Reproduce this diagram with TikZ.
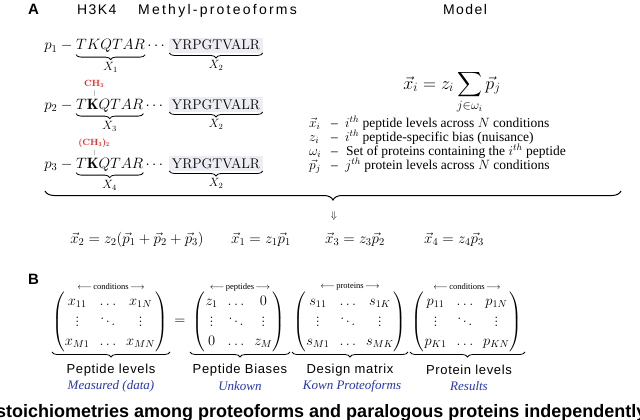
\RequirePackage{fix-cm}
\documentclass[tikz,border=0pt]{standalone}
\usepackage{amsmath}
\usepackage{fontspec}
\newfontfamily\hsans[LetterSpace=10]{Liberation Sans}
\newfontfamily\hsanswide[LetterSpace=16]{Liberation Sans}
\newfontfamily\hsanslab[LetterSpace=5]{Liberation Sans}
\newfontfamily\hsansb{Liberation Sans}
\newfontfamily\tms{Liberation Serif}
\usetikzlibrary{decorations.pathreplacing}
\definecolor{pepred}{RGB}{228,40,40}
\definecolor{labblue}{RGB}{40,55,170}
\definecolor{boxgrey}{RGB}{237,237,244}
\tikzset{
  panel/.style={inner sep=0, font=\hsansb\bfseries\fontsize{15}{17}\selectfont},
  head/.style={inner sep=0, font=\hsans\fontsize{14}{16}\selectfont},
  headwide/.style={inner sep=0, font=\hsanswide\fontsize{14}{16}\selectfont},
  seq/.style={inner sep=0, font=\fontsize{15}{18}\selectfont},
  tailbox/.style={fill=boxgrey, inner sep=2.5pt, font=\fontsize{14}{16}\selectfont},
  xlab/.style={inner sep=0, font=\fontsize{12}{14}\selectfont},
  meth/.style={inner sep=0, text=pepred, font=\fontsize{9}{10}\selectfont},
  tick/.style={draw=black!25, line width=0.6pt},
  brc/.style={decorate, decoration={brace, mirror, amplitude=5pt}, line width=0.8pt},
  bigbrc/.style={decorate, decoration={brace, mirror, amplitude=9pt}, line width=1pt},
  eqn/.style={inner sep=0, font=\fontsize{15}{18}\selectfont},
  legsym/.style={inner sep=0, font=\fontsize{13.5}{15}\selectfont},
  legtxt/.style={inner sep=0, font=\tms\fontsize{13.5}{15}\selectfont},
  mat/.style={inner sep=0, font=\fontsize{14.5}{18}\selectfont},
  mhead/.style={inner sep=0, font=\tms\fontsize{8.5}{10}\selectfont},
  mlab/.style={inner sep=0, font=\hsanslab\fontsize{13}{15}\selectfont},
  mblue/.style={inner sep=0, text=labblue, font=\tms\itshape\fontsize{13}{15}\selectfont},
  foot/.style={inner sep=0, font=\hsansb\bfseries\fontsize{18}{20}\selectfont}
}
\begin{document}
\begin{tikzpicture}[x=1pt,y=-1pt]
\fill[white] (0,0) rectangle (640,420);
\useasboundingbox (0,0) rectangle (640,420);

% ---------- panel A headings
\node[panel, anchor=base west] (A) at (28,15) {A};
\node[head, anchor=base west] (h3k4) at (77,15) {H3K4};
\node[headwide, anchor=base west] (meth) at (138,15) {Methyl-proteoforms};
\node[head, anchor=base] (model) at (465,15) {Model};

% ---------- peptide rows
\foreach \r/\yy in {1/50, 2/109, 3/168}{
  \node[seq, anchor=base east] (p\r) at (76,\yy) {$p_{\r} - {}$};
}
\node[seq, anchor=base west] (t1) at (76,50) {$TKQTAR$};
\node[seq, anchor=base west] (t2) at (76,109) {$T\mathbf{K}QTAR$};
\node[seq, anchor=base west] (t3) at (76,168) {$T\mathbf{K}QTAR$};
\foreach \r in {1,2,3}{
  \node[seq, anchor=base west] (d\r) at ([xshift=2pt]t\r.base east) {$\cdots$};
}
\node[tailbox, anchor=base] (y1) at (216,50) {YRPGTVALR};
\node[tailbox, anchor=base] (y2) at (216,109) {YRPGTVALR};
\node[tailbox, anchor=base] (y3) at (216,168) {YRPGTVALR};

\draw[brc] ([yshift=-1.5pt]t1.south west) -- ([yshift=-1.5pt]t1.south east) node[xlab, midway, below=7pt] (X1) {$X_1$};
\draw[brc] ([yshift=-1.5pt]t2.south west) -- ([yshift=-1.5pt]t2.south east) node[xlab, midway, below=7pt] (X3) {$X_3$};
\draw[brc] ([yshift=-1.5pt]t3.south west) -- ([yshift=-1.5pt]t3.south east) node[xlab, midway, below=7pt] (X4) {$X_4$};
\draw[brc] (y1.south west) -- (y1.south east) node[xlab, midway, below=7pt] (X2a) {$X_2$};
\draw[brc] (y2.south west) -- (y2.south east) node[xlab, midway, below=7pt] (X2b) {$X_2$};
\draw[brc] (y3.south west) -- (y3.south east) node[xlab, midway, below=7pt] (X2c) {$X_2$};

% methyl marks
\node[meth] (ch3) at (94,84) {\textbf{CH}$_{\mathbf{3}}$};
\node[meth] (ch32) at (94,143) {\textbf{(CH}$_{\mathbf{3}}$\textbf{)}$_{\mathbf{2}}$};
\coordinate (k2) at (94,96);
\coordinate (k3) at (94,155);
\draw[tick] ([yshift=-2pt]ch3.south) -- (k2);
\draw[tick] ([yshift=-2pt]ch32.south) -- (k3);

% ---------- model
\node[inner sep=0, anchor=base, font=\fontsize{18}{21}\selectfont] (eqm) at (452,89)
  {$\displaystyle \vec{x}_i = z_i \sum_{j\in\omega_i} \vec{p}_j$};

\foreach \k/\yy/\sym in {1/127/{\vec{x}_i}, 2/141/{z_i}, 3/155/{\omega_i}, 4/169/{\vec{p}_j}}{
  \node[legsym, anchor=base west] (s\k) at (309,\yy) {$\sym$};
  \node[legtxt, anchor=base west] (dash\k) at (331,\yy) {\textendash};
}
\node[legtxt, anchor=base west] (l1) at (345,127) {$i^{th}$ peptide levels across $N$ conditions};
\node[legtxt, anchor=base west] (l2) at (345,141) {$i^{th}$ peptide-specific bias (nuisance)};
\node[legtxt, anchor=base west] (l3) at (346,155) {Set of proteins containing the $i^{th}$ peptide};
\node[legtxt, anchor=base west] (l4) at (345,169) {$j^{th}$ protein levels across $N$ conditions};

% ---------- big brace and arrow
\coordinate (bl) at (45,191);
\coordinate (br) at (621,191);
\draw[bigbrc] (bl) -- (br);
\node[inner sep=0, font=\fontsize{10}{11}\selectfont] (arr) at (334,216) {$\Downarrow$};

% ---------- derived equations
\node[eqn, anchor=base] (e1) at (137,243) {$\vec{x}_2 = z_2(\vec{p}_1+\vec{p}_2+\vec{p}_3)$};
\node[eqn, anchor=base] (e2) at (261,243) {$\vec{x}_1 = z_1\vec{p}_1$};
\node[eqn, anchor=base] (e3) at (355,243) {$\vec{x}_3 = z_3\vec{p}_2$};
\node[eqn, anchor=base] (e4) at (454,243) {$\vec{x}_4 = z_4\vec{p}_3$};

% ---------- panel B
\node[panel, anchor=base west] (B) at (28,284) {B};

\node[mat] (m1) at (110,322) {\renewcommand{\arraystretch}{1.05}$\begin{pmatrix} x_{11} & \ldots & x_{1N}\\ \vdots & \ddots & \vdots\\ x_{M1} & \ldots & x_{MN}\end{pmatrix}$};
\node[mat] (eq) at (180,322) {$=$};
\node[mat] (m2) at (239,322) {\renewcommand{\arraystretch}{1.05}$\begin{pmatrix} z_1 & \ldots & 0\\ \vdots & \ddots & \vdots\\ 0 & \ldots & z_M\end{pmatrix}$};
\node[mat] (m3) at (350,322) {\renewcommand{\arraystretch}{1.05}$\begin{pmatrix} s_{11} & \ldots & s_{1K}\\ \vdots & \ddots & \vdots\\ s_{M1} & \ldots & s_{MK}\end{pmatrix}$};
\node[mat] (m4) at (467,322) {\renewcommand{\arraystretch}{1.05}$\begin{pmatrix} p_{11} & \ldots & p_{1N}\\ \vdots & \ddots & \vdots\\ p_{K1} & \ldots & p_{KN}\end{pmatrix}$};

\node[mhead] (c1) at (111,287) {$\longleftarrow$\,conditions\,$\longrightarrow$};
\node[mhead] (c2) at (240,287) {$\longleftarrow$\,peptides\,$\longrightarrow$};
\node[mhead] (c3) at (350,287) {$\longleftarrow$\,proteins\,$\longrightarrow$};
\node[mhead] (c4) at (467,287) {$\longleftarrow$\,conditions\,$\longrightarrow$};

\coordinate (b1l) at (52,352);  \coordinate (b1r) at (170,352);
\coordinate (b2l) at (190,352); \coordinate (b2r) at (290,352);
\coordinate (b3l) at (292,352); \coordinate (b3r) at (408,352);
\coordinate (b4l) at (410,352); \coordinate (b4r) at (525,352);
\draw[brc] (b1l) -- (b1r);
\draw[brc] (b2l) -- (b2r);
\draw[brc] (b3l) -- (b3r);
\draw[brc] (b4l) -- (b4r);

\node[mlab] (L1) at (111,370) {Peptide levels};
\node[mblue] (U1) at (111,386) {Measured (data)};
\node[mlab] (L2) at (240,370) {Peptide Biases};
\node[mblue] (U2) at (240,386) {Unkown};
\node[mlab] (L3) at (350,370) {Design matrix};
\node[mblue] (U3) at (352,386) {Kown Proteoforms};
\node[mlab] (L4) at (469,370) {Protein levels};
\node[mblue] (U4) at (469,386) {Results};

% ---------- cropped caption line
\node[foot, anchor=base west] (foot) at (-4,417) {stoichiometries among proteoforms and paralogous proteins independently};
\end{tikzpicture}
\end{document}
